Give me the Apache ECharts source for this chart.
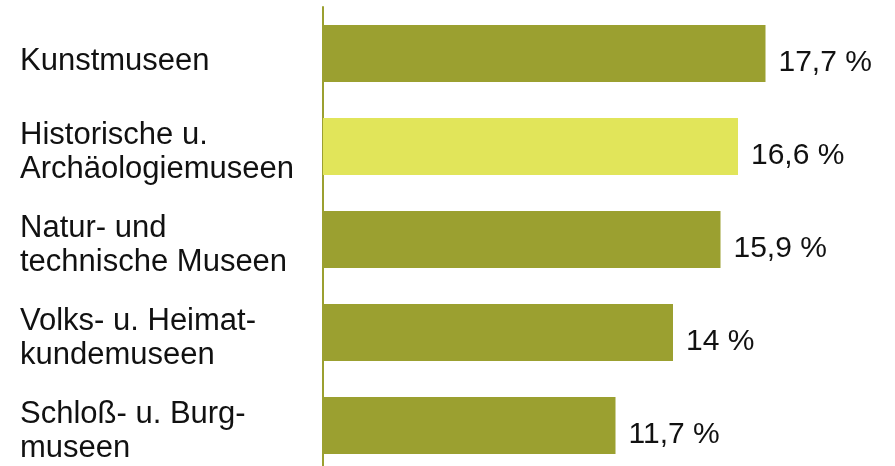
<!DOCTYPE html>
<html>
<head>
<meta charset="utf-8">
<script src="https://cdn.jsdelivr.net/npm/echarts@6/dist/echarts.min.js"></script>
<style>
  html, body { margin: 0; padding: 0; background: #fff; }
  #chart { width: 895px; height: 466px; }
</style>
</head>
<body>
<div id="chart"></div>
<script>
// Museum types and their share (percent)
const categories = [
  'Kunstmuseen',
  'Historische u.\nArchäologiemuseen',
  'Natur- und\ntechnische Museen',
  'Volks- u. Heimat-\nkundemuseen',
  'Schloß- u. Burg-\nmuseen'
];
const shares = [17.7, 16.6, 15.9, 14, 11.7];
const highlighted = 'Historische u.\nArchäologiemuseen';

const OLIVE = '#9ba030';
const LIME = '#e1e55a';
const FONT = 'Liberation Sans, Arial, sans-serif';

const barData = shares.map((v, i) => ({
  value: v,
  itemStyle: { color: categories[i] === highlighted ? LIME : OLIVE }
}));

// Category labels sit slightly below the bar centre: a thin blank line
// above the text pushes the centred block down.
function categoryLabel(text) {
  const lines = text.split('\n');
  const spacer = lines.length === 1 ? '{gap1|\u200b}' : '{gap2|\u200b}';
  return spacer + '\n' + lines.map((l) => '{t|' + l + '}').join('\n');
}

const chart = echarts.init(document.getElementById('chart'));
chart.setOption({
  animation: false,
  textStyle: { fontFamily: FONT },
  grid: { left: 323, right: 72, top: 7, height: 465, outerBoundsMode: 'none', containLabel: false },
  xAxis: {
    type: 'value',
    min: 0,
    max: 20,
    show: false
  },
  yAxis: {
    type: 'category',
    inverse: true,
    data: categories,
    axisLine: { show: true, lineStyle: { color: OLIVE, width: 2 } },
    axisTick: { show: false },
    axisLabel: {
      align: 'left',
      margin: 303,
      fontSize: 31,
      lineHeight: 34,
      color: '#111',
      fontFamily: FONT,
      formatter: categoryLabel,
      rich: {
        gap1: { fontSize: 4, lineHeight: 16 },
        gap2: { fontSize: 4, lineHeight: 12 },
        t: { fontSize: 31, lineHeight: 34, color: '#111', fontFamily: FONT }
      }
    }
  },
  series: [{
    type: 'bar',
    data: barData,
    barWidth: 57,
    label: {
      show: true,
      position: 'right',
      distance: 13,
      offset: [0, 9],
      fontSize: 30,
      color: '#111',
      fontFamily: FONT,
      formatter: (p) => String(p.value).replace('.', ',') + ' %'
    }
  }]
});
</script>
</body>
</html>
